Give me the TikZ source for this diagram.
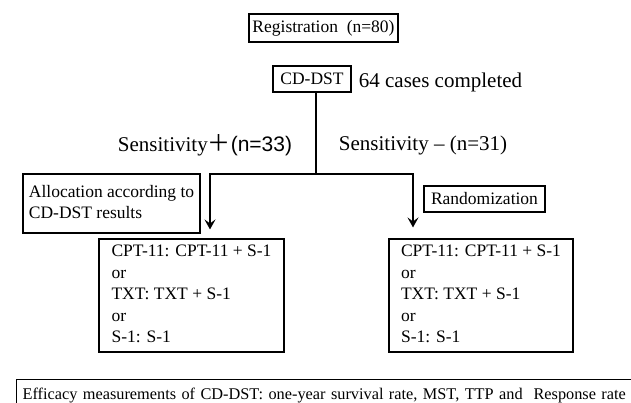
\documentclass[tikz,border=0pt]{standalone}
\usepackage{fontspec}
\setmainfont{Liberation Serif}
\newfontfamily\arialf{Liberation Sans}
\newfontfamily\cjkf{Noto Sans CJK JP}
\usetikzlibrary{arrows.meta}
\begin{document}
\begin{tikzpicture}[x=1pt,y=-1pt,
  box/.style={draw,line width=1.1pt,inner sep=0pt,align=left,font=\fontsize{17.5}{21.5}\selectfont},
  lbl/.style={inner sep=0pt,font=\fontsize{21}{24}\selectfont},
  flow/.style={line width=2.4pt},
  flowarrow/.style={line width=2.4pt,-{Stealth[length=10pt,width=11pt,inset=4pt]}}]
\useasboundingbox (0,0) rectangle (631,403);
\clip (0,0) rectangle (631,403);
\node[box,minimum width=149pt,minimum height=28pt] (reg) at (323.5,28) {Registration\ \ (n=80)};
\node[box,minimum width=78pt,minimum height=26pt] (cd) at (312,79) {CD-DST};
\node[lbl,anchor=center] (done) at (440.5,82) {64 cases completed};
\node[lbl] (spos) at (205,145) {Sensitivity{\cjkf\fontsize{23}{24}\selectfont ＋}{\arialf(n=33)}};
\node[lbl] (sneg) at (423,145) {Sensitivity – (n=31)};
\node[box,minimum width=177pt,minimum height=59pt] (alloc) at (111.5,203.5)
  {\begin{tabular}{@{}l@{}}Allocation according to\\CD-DST results\end{tabular}};
\node[box,minimum width=121pt,minimum height=26pt] (rand) at (484.5,199) {Randomization};
\node[box,minimum width=185pt,minimum height=113pt] (res1) at (191.5,295.5)
  {\begin{tabular}{@{}l@{}}CPT-11: CPT-11 + S-1\\or\\TXT: TXT + S-1\\or\\S-1: S-1\end{tabular}};
\node[box,minimum width=184pt,minimum height=113pt] (res2) at (481,295.5)
  {\begin{tabular}{@{}l@{}}CPT-11: CPT-11 + S-1\\or\\TXT: TXT + S-1\\or\\S-1: S-1\end{tabular}};
\node[box,anchor=north west,text width=620pt,inner xsep=6pt,minimum height=31pt,
  font=\fontsize{16.3}{19}\selectfont] (eff) at (16,379)
  {Efficacy measurements of CD-DST: one-year survival rate, MST, TTP and\ \ Response rate};
\coordinate (j) at (316,174);
\coordinate (lc) at (210,174);
\coordinate (rc) at (413,174);
\draw[flow] (cd.south -| j) -- (j);
\draw[flowarrow,shorten >=9pt] (j) -- (lc) -- (lc |- res1.north);
\draw[flowarrow,shorten >=11pt] (j) -- (rc) -- (rc |- res2.north);
\end{tikzpicture}
\end{document}
